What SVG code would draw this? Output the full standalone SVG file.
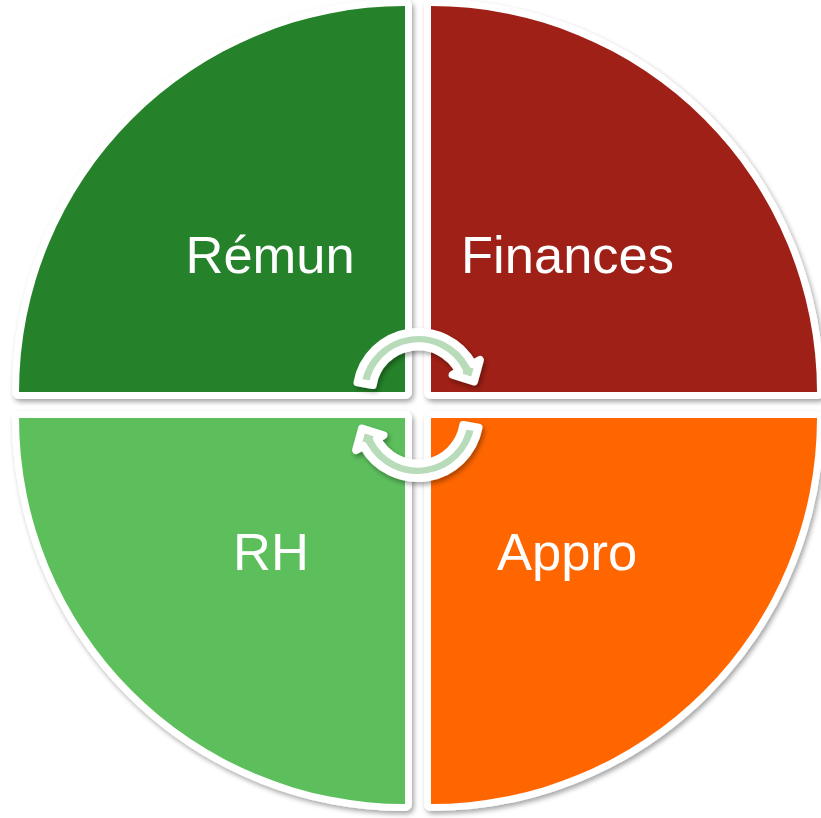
<svg xmlns="http://www.w3.org/2000/svg" xmlns:xlink="http://www.w3.org/1999/xlink" width="821" height="818" viewBox="0 0 821 818">
  <style>
    .outline { fill: #ffffff; stroke: #ffffff; stroke-width: 14; stroke-linejoin: round; }
    .label { font-family: "Liberation Sans", Arial, sans-serif; font-size: 52.5px; fill: #ffffff; }
    .arrow { fill: #b8dcba; stroke: #ffffff; stroke-width: 8; stroke-linejoin: round; }
  </style>
  <defs>
    <filter id="shadow" x="-10%" y="-10%" width="120%" height="120%">
      <feDropShadow dx="2" dy="3" stdDeviation="2.5" flood-color="#000000" flood-opacity="0.35"/>
    </filter>
    <path id="arrow-shape" class="arrow" d="M357.5,382.4 A62,62 0 0 1 472.7,364 L479.9,360 L474,381.5 L452.6,374.8 L459,371.3 A46,46 0 0 0 372.7,385 Z"/>
  </defs>
  <rect x="0" y="0" width="821" height="818" fill="#ffffff"/>

  <g id="quad-remun">
    <path class="outline" filter="url(#shadow)" d="M405,392 L405,6 A386,386 0 0 0 19,392 Z"/>
    <path fill="#25822A" d="M405,392 L405,6 A386,386 0 0 0 19,392 Z"/>
    <text class="label" x="185.5" y="273">Rémun</text>
  </g>
  <g id="quad-finances">
    <path class="outline" filter="url(#shadow)" d="M431,392 L817,392 A386,386 0 0 0 431,6 Z"/>
    <path fill="#9F2016" d="M431,392 L817,392 A386,386 0 0 0 431,6 Z"/>
    <text class="label" x="461" y="273">Finances</text>
  </g>
  <g id="quad-rh">
    <path class="outline" filter="url(#shadow)" d="M405,418 L19,418 A386,386 0 0 0 405,804 Z"/>
    <path fill="#5CBF5C" d="M405,418 L19,418 A386,386 0 0 0 405,804 Z"/>
    <text class="label" x="233" y="570">RH</text>
  </g>
  <g id="quad-appro">
    <path class="outline" filter="url(#shadow)" d="M431,418 L431,804 A386,386 0 0 0 817,418 Z"/>
    <path fill="#FF6600" d="M431,418 L431,804 A386,386 0 0 0 817,418 Z"/>
    <text class="label" x="497" y="570">Appro</text>
  </g>

  <g id="connectors" filter="url(#shadow)">
    <use href="#arrow-shape" xlink:href="#arrow-shape"/>
    <use href="#arrow-shape" xlink:href="#arrow-shape" transform="rotate(180 418 405)"/>
  </g>
</svg>
